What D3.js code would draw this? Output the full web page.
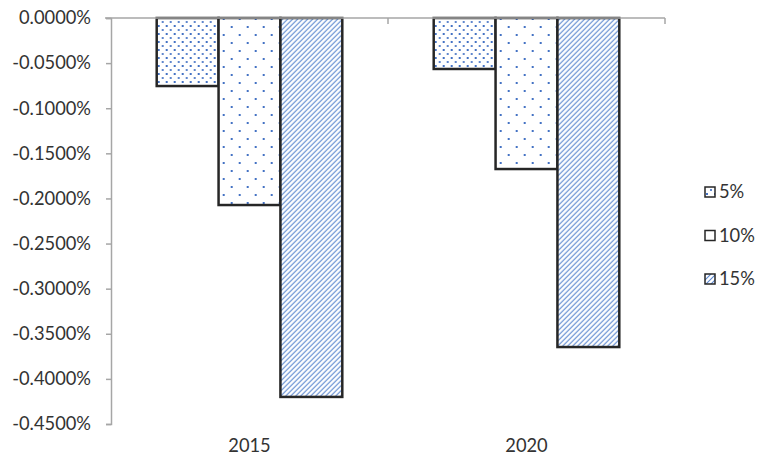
<html>
<head><meta charset="utf-8"></head>
<script src="https://d3js.org/d3.v7.min.js"></script>
<style>
    body { margin: 0; background: #fff; }
    text { font-family: Lato, "Open Sans", sans-serif; font-weight: 400; }
</style>
<body>
<svg width="761" height="461"></svg>
<script>
    var years = ["2015", "2020"];
    var seriesNames = ["5%", "10%", "15%"];
    var values5 = [-0.0754, -0.0565];
    var values10 = [-0.2073, -0.1674];
    var values15 = [-0.4200, -0.3647];
    var yTicks = [0, -0.05, -0.1, -0.15, -0.2, -0.25, -0.3, -0.35, -0.4, -0.45];

    var allValues = [values5, values10, values15];
    var svg = d3.select("svg");
    var mLeft = 111, mRight = 665, mTop = 18, mBottom = 424;
    var fs = "18.3px";

    // patterns
    var defs = svg.append("defs");
    var blue = "#4472c4";

    var p1 = defs.append("pattern").attr("id", "pat0").attr("patternUnits", "userSpaceOnUse")
        .attr("width", 8).attr("height", 8);
    p1.append("rect").attr("width", 8).attr("height", 8).attr("fill", "#fff");
    p1.append("rect").attr("x", 1).attr("y", 1).attr("width", 2).attr("height", 2).attr("fill", blue);
    p1.append("rect").attr("x", 5).attr("y", 5).attr("width", 2).attr("height", 2).attr("fill", blue).attr("opacity", 0.85);

    var p2 = defs.append("pattern").attr("id", "pat1").attr("patternUnits", "userSpaceOnUse")
        .attr("width", 16).attr("height", 16);
    p2.append("rect").attr("width", 16).attr("height", 16).attr("fill", "#fff");
    p2.append("rect").attr("x", 2).attr("y", 2).attr("width", 2).attr("height", 2).attr("fill", blue);
    p2.append("rect").attr("x", 10).attr("y", 10).attr("width", 2).attr("height", 2).attr("fill", blue);

    var p3 = defs.append("pattern").attr("id", "pat2").attr("patternUnits", "userSpaceOnUse")
        .attr("width", 5).attr("height", 5);
    p3.append("rect").attr("width", 5).attr("height", 5).attr("fill", "#fff");
    p3.append("path").attr("d", "M-1,6 L6,-1 M-1,1 L1,-1 M4,6 L6,4").attr("stroke", "#5a86cf").attr("stroke-width", 1.1);

    var x0 = d3.scaleBand().domain(years).range([mLeft, mRight]).paddingInner(0.33).paddingOuter(0.165);
    var x1 = d3.scaleBand().domain(d3.range(3)).range([0, x0.bandwidth()]);
    var y = d3.scaleLinear().domain([0, -0.45]).range([mTop, mBottom]);

    // bars
    years.forEach(function (yr, i) {
        var g = svg.append("g").attr("transform", "translate(" + x0(yr) + ",0)");
        g.selectAll("rect").data(allValues.map(function (v) { return v[i]; })).enter().append("rect")
            .attr("x", function (d, j) { return x1(j); })
            .attr("y", y(0))
            .attr("width", x1.bandwidth())
            .attr("height", function (d) { return y(d) - y(0); })
            .attr("fill", function (d, j) { return "url(#pat" + j + ")"; })
            .attr("stroke", "#262626")
            .attr("stroke-width", 2.5);
    });

    // y axis
    var yAxis = svg.append("g").attr("transform", "translate(" + mLeft + ",0)")
        .call(d3.axisLeft(y).tickValues(yTicks).tickSize(5).tickPadding(15)
            .tickFormat(function (d) { return d3.format(".4f")(d).replace("\u2212", "-") + "%"; }));
    yAxis.select(".domain").attr("stroke", "#a6a6a6").attr("stroke-width", 1.5);
    yAxis.selectAll(".tick line").attr("stroke", "#a6a6a6").attr("stroke-width", 1.5);
    yAxis.selectAll("text").style("font-size", fs).attr("fill", "#333");

    // category axis at zero
    var xg = svg.append("g");
    xg.append("line").attr("x1", mLeft - 6).attr("x2", mRight).attr("y1", y(0)).attr("y2", y(0))
        .attr("stroke", "#a6a6a6").attr("stroke-width", 1.5);
    var bounds = [mLeft + (mRight - mLeft) / 2, mRight];
    xg.selectAll(".tk").data(bounds).enter().append("line")
        .attr("x1", function (d) { return d; }).attr("x2", function (d) { return d; })
        .attr("y1", y(0)).attr("y2", y(0) + 6)
        .attr("stroke", "#a6a6a6").attr("stroke-width", 1.5);

    svg.selectAll(".cat").data(years).enter().append("text")
        .attr("x", function (d) { return x0(d) + x0.bandwidth() / 2; })
        .attr("y", 452)
        .attr("text-anchor", "middle")
        .style("font-size", fs).attr("fill", "#333")
        .text(function (d) { return d; });

    // legend
    var lg = svg.append("g").attr("transform", "translate(705,0)");
    seriesNames.forEach(function (s, i) {
        var yy = 192 + i * 43.5;
        lg.append("rect").attr("x", 0).attr("y", yy - 5).attr("width", 10).attr("height", 10)
            .attr("fill", "url(#pat" + i + ")").attr("stroke", "#262626").attr("stroke-width", 1.5);
        lg.append("text").attr("x", 14).attr("y", yy + 6).style("font-size", fs).attr("fill", "#333").text(s);
    });
</script>
</body>
</html>
